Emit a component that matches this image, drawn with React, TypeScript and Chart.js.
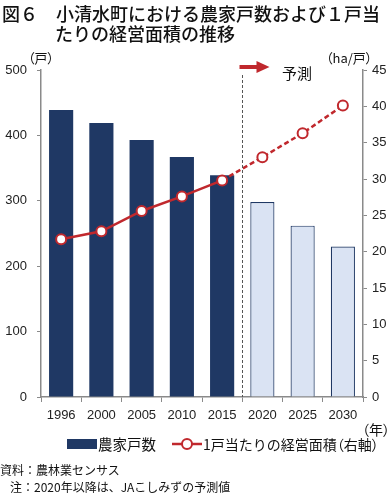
import React, { useEffect, useRef } from "react";
import { Chart, registerables } from "chart.js";

Chart.register(...registerables);

const years = ["1996", "2000", "2005", "2010", "2015", "2020", "2025", "2030"];
const households = [439, 419, 393, 367, 339, 298, 262, 230];
const areaPerHousehold = [21.7, 22.8, 25.6, 27.6, 29.8, 33.0, 36.3, 40.1];
const forecastStart = 5;
const leftMax = 500;
const leftStep = 100;
const rightMax = 45;
const rightStep = 5;

const NAVY = "#1f3864";
const LIGHT = "#dae3f3";
const RED = "#c0282d";
const AXIS = "#8a8a8a";
const TICKFONT = { family: "'Liberation Sans', Arial, sans-serif", size: 13 };
const JP = "'Noto Sans CJK JP', sans-serif";

const overlayPlugin = {
  id: "overlay",
  afterDatasetsDraw(chart: any) {
    const ctx = chart.ctx;
    const xs = chart.scales.x;
    const area = chart.chartArea;
    const lx = Math.round((xs.getPixelForValue(forecastStart - 1) + xs.getPixelForValue(forecastStart)) / 2) + 0.5;
    ctx.save();
    ctx.strokeStyle = "#555";
    ctx.lineWidth = 1;
    ctx.setLineDash([3, 2]);
    ctx.beginPath();
    ctx.moveTo(lx, area.top + 5);
    ctx.lineTo(lx, area.bottom);
    ctx.stroke();
    ctx.setLineDash([]);
    const ay = area.top - 3;
    ctx.strokeStyle = RED;
    ctx.fillStyle = RED;
    ctx.lineWidth = 4;
    ctx.beginPath();
    ctx.moveTo(lx - 3, ay);
    ctx.lineTo(lx + 17, ay);
    ctx.stroke();
    ctx.beginPath();
    ctx.moveTo(lx + 27, ay);
    ctx.lineTo(lx + 14, ay - 6);
    ctx.lineTo(lx + 14, ay + 6);
    ctx.closePath();
    ctx.fill();
    ctx.fillStyle = NAVY;
    ctx.fillRect(67, 439, 30, 10);
    ctx.strokeStyle = RED;
    ctx.lineWidth = 2.5;
    ctx.beginPath();
    ctx.moveTo(172, 444);
    ctx.lineTo(202, 444);
    ctx.stroke();
    ctx.fillStyle = "#fff";
    ctx.lineWidth = 2;
    ctx.beginPath();
    ctx.arc(187, 444, 5, 0, Math.PI * 2);
    ctx.fill();
    ctx.stroke();
    ctx.restore();
  },
};

export default function App() {
  const ref = useRef<HTMLCanvasElement>(null);
  useEffect(() => {
    if (!ref.current) return;
    const chart = new Chart(ref.current, {
      type: "bar",
      data: {
        labels: years,
        datasets: [
          {
            type: "line",
            label: "1戸当たりの経営面積（右軸）",
            data: areaPerHousehold,
            yAxisID: "y1",
            borderColor: RED,
            borderWidth: 2.5,
            pointRadius: 5,
            pointBackgroundColor: "#fff",
            pointBorderColor: RED,
            pointBorderWidth: 2,
            order: 0,
            segment: {
              borderDash: (c: any) => (c.p0DataIndex >= forecastStart - 1 ? [5, 3] : undefined),
            },
          } as any,
          {
            type: "bar",
            label: "農家戸数",
            data: households,
            yAxisID: "y",
            backgroundColor: households.map((_, i) => (i >= forecastStart ? LIGHT : NAVY)),
            borderColor: NAVY,
            borderWidth: households.map((_, i) => (i >= forecastStart ? 1.2 : 0)),
            barPercentage: 0.6,
            categoryPercentage: 1,
            order: 1,
          } as any,
        ],
      },
      options: {
        animation: false,
        responsive: false,
        maintainAspectRatio: false,
        layout: { padding: { top: 70, bottom: 68, left: 0, right: 0 } },
        plugins: { legend: { display: false }, tooltip: { enabled: false } },
        scales: {
          x: {
            offset: true,
            grid: { offset: true, drawOnChartArea: false, color: AXIS, tickLength: 5 },
            border: { color: AXIS, width: 1.5 },
            ticks: { color: "#222", font: TICKFONT, padding: 6, maxRotation: 0 },
            afterFit: (s: any) => { s.height = 30; },
          },
          y: {
            position: "left",
            min: 0,
            max: leftMax,
            grid: { drawOnChartArea: false, color: AXIS, tickLength: 4 },
            border: { color: AXIS, width: 1.5 },
            ticks: { stepSize: leftStep, color: "#222", font: TICKFONT, padding: 10 },
            afterFit: (s: any) => { s.width = 41; },
          },
          y1: {
            position: "right",
            min: 0,
            max: rightMax,
            grid: { drawOnChartArea: false, color: AXIS, tickLength: 4 },
            border: { color: AXIS, width: 1.5 },
            ticks: { stepSize: rightStep, color: "#222", font: TICKFONT, padding: 5 },
            afterFit: (s: any) => { s.width = 26; },
          },
        },
      },
      plugins: [overlayPlugin],
    });
    return () => chart.destroy();
  }, []);

  const abs = (left: number, top: number, size: number, extra: any = {}) => ({
    position: "absolute" as const,
    left,
    top,
    fontSize: size,
    lineHeight: `${size + 2}px`,
    fontFamily: JP,
    whiteSpace: "nowrap" as const,
    color: "#111",
    ...extra,
  });
  const palt = { fontFeatureSettings: '"palt"' };

  return (
    <div style={{ position: "absolute", left: 0, top: 0, width: 389, height: 495, background: "#fff", overflow: "hidden" }}>
      <canvas ref={ref} width={389} height={495} style={{ position: "absolute", left: 0, top: 0, width: 389, height: 495 }} />
      <div style={abs(2, 3, 18, { fontWeight: 500 })}>図６　小清水町における農家戸数および１戸当</div>
      <div style={abs(55, 23, 18, { fontWeight: 500 })}>たりの経営面積の推移</div>
      <div style={abs(28, 50, 13, palt)}>（戸）</div>
      <div style={abs(326, 50, 13, palt)}>（ha/戸）</div>
      <div style={abs(282, 64, 15)}>予測</div>
      <div style={abs(362, 421, 14, palt)}>（年）</div>
      <div style={abs(98, 436, 14.5)}>農家戸数</div>
      <div style={abs(203, 436, 14)}>1戸当たりの経営面積<span style={palt}>（右軸）</span></div>
      <div style={abs(0, 463, 12)}>資料：農林業センサス</div>
      <div style={abs(10, 480, 12)}>注：2020年以降は、JAこしみずの予測値</div>
    </div>
  );
}
